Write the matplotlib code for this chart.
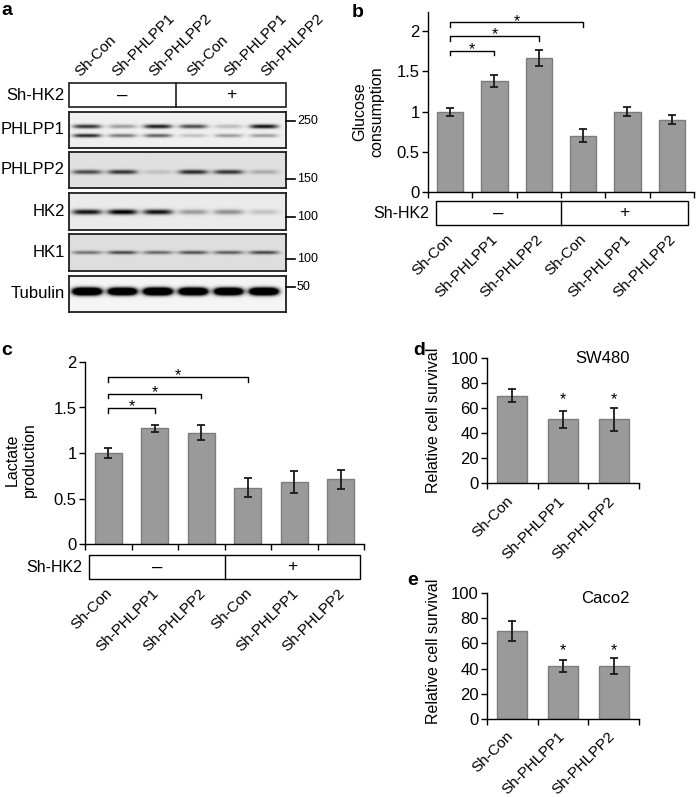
import numpy as np
import matplotlib
matplotlib.use('Agg')
import matplotlib.pyplot as plt
from matplotlib.transforms import blended_transform_factory as btf, offset_copy
from matplotlib.patches import Rectangle
from matplotlib.lines import Line2D

plt.rcParams['font.family'] = ['Liberation Sans', 'DejaVu Sans']

# ---------------- data ----------------
lanes = ['Sh-Con', 'Sh-PHLPP1', 'Sh-PHLPP2', 'Sh-Con', 'Sh-PHLPP1', 'Sh-PHLPP2']
hk2_status = ['\u2013', '+']
hk2_label = 'Sh-HK2'

glucose = [1.0, 1.38, 1.67, 0.70, 1.0, 0.90]
glucose_err = [0.05, 0.07, 0.10, 0.08, 0.06, 0.06]
glucose_ticks = [0, 0.5, 1, 1.5, 2]
glucose_ticklabels = ['0', '0.5', '1', '1.5', '2']
glucose_brackets = [(0, 1, 1.76), (0, 2, 1.94), (0, 3, 2.11)]

lactate = [1.0, 1.27, 1.225, 0.62, 0.68, 0.71]
lactate_err = [0.06, 0.04, 0.08, 0.105, 0.12, 0.105]
lactate_ticks = [0, 0.5, 1, 1.5, 2]
lactate_ticklabels = ['0', '0.5', '1', '1.5', '2']
lactate_brackets = [(0, 1, 1.49), (0, 2, 1.65), (0, 3, 1.83)]

survival_groups = ['Sh-Con', 'Sh-PHLPP1', 'Sh-PHLPP2']
sw480 = [70, 51, 51]
sw480_err = [5.5, 7, 9]
sw480_stars = [1, 2]
caco2 = [70, 42, 42]
caco2_err = [8, 5, 6.5]
caco2_stars = [1, 2]
survival_ticks = [0, 20, 40, 60, 80, 100]

blot_rows = ['PHLPP1', 'PHLPP2', 'HK2', 'HK1', 'Tubulin']
phlpp1_upper = [0.8, 0.35, 0.9, 0.7, 0.22, 0.95]
phlpp1_lower = [0.85, 0.5, 0.6, 0.2, 0.35, 0.35]
phlpp2_band = [0.7, 0.8, 0.15, 0.85, 0.8, 0.25]
hk2_band = [0.95, 1.05, 0.95, 0.35, 0.4, 0.18]
hk1_band = [0.5, 0.7, 0.55, 0.65, 0.6, 0.7]
tubulin_band = [2.5, 2.3, 2.5, 2.4, 2.3, 2.4]
mw_labels = ['250', '150', '100', '100', '50']

# ---------------- layout helpers ----------------
W, H = 697, 797
fig = plt.figure(figsize=(W / 100, H / 100), dpi=100)


def fx(p):
    return p / W


def fy(p):
    return 1 - p / H


def ax_px(x0, y0, x1, y1):
    return fig.add_axes([fx(x0), fy(y1), (x1 - x0) / W, (y1 - y0) / H])


BAR_C = '#9a9a9a'
EDGE_C = '#7c7c7c'
FS = 11.5


def bar_panel(ax, vals, errs, ylim, yticks, yticklabels):
    n = len(vals)
    x = np.arange(n)
    ax.bar(x, vals, width=0.59, color=BAR_C, edgecolor=EDGE_C, linewidth=1.0, zorder=2)
    ax.errorbar(x, vals, yerr=errs, fmt='none', ecolor='#1a1a1a', elinewidth=1.3,
                capsize=2.8, capthick=1.3, zorder=3)
    ax.set_xlim(-0.5, n - 0.5)
    ax.set_ylim(*ylim)
    ax.set_xticks(np.arange(n + 1) - 0.5)
    ax.set_xticklabels([])
    ax.set_yticks(yticks)
    ax.set_yticklabels(yticklabels, fontsize=FS + 0.5)
    ax.tick_params(axis='x', length=4, width=1, direction='out', color='k')
    ax.tick_params(axis='y', length=4, width=1, direction='out', pad=2, color='k')
    for s in ['top', 'right']:
        ax.spines[s].set_visible(False)
    for s in ['left', 'bottom']:
        ax.spines[s].set_linewidth(1.0)
    ax.patch.set_alpha(0)


def rot_labels(ax, labels, y_px, off):
    tr = btf(ax.transData, fig.transFigure)
    for i, lab in enumerate(labels):
        ax.text(i + off, fy(y_px), lab, transform=tr, rotation=45, ha='right', va='top',
                fontsize=FS - 0.5, clip_on=False)


def brackets(ax, specs, drop, star_off):
    tr = offset_copy(ax.transData, fig=fig, y=star_off, units='dots')
    for a, b, y in specs:
        ax.plot([a, a, b, b], [y - drop, y, y, y - drop], color='k', lw=1.0, clip_on=False)
        ax.text((a + b) / 2, y, '*', transform=tr, ha='center', va='baseline', fontsize=FS,
                clip_on=False)


def hk2_box(ax, xl, xr, y0, y1, label_right_px):
    tr = btf(ax.transData, fig.transFigure)
    n = len(lanes)
    mid = n / 2 - 0.5
    ax.add_patch(Rectangle((xl, fy(y1)), xr - xl, (y1 - y0) / H, transform=tr, fill=False,
                           lw=1.0, ec='k', clip_on=False))
    ax.add_line(Line2D([mid, mid], [fy(y1), fy(y0)], transform=tr, color='k', lw=1.0,
                       clip_on=False))
    yc = fy((y0 + y1) / 2)
    ax.text((xl + mid) / 2, yc, hk2_status[0], transform=tr, ha='center', va='center', fontsize=FS + 2)
    ax.text((mid + xr) / 2, yc, hk2_status[1], transform=tr, ha='center', va='center', fontsize=FS + 1)
    fig.text(fx(label_right_px), yc, hk2_label, ha='right', va='center', fontsize=FS)


# ---------------- panel a : western blot ----------------
BX0, BX1 = -0.51, 5.62
blot_specs = [
    # label, box y0, y1, background, bands (intensities, yc, sy, wx), mw y
    ('PHLPP1', 112, 148, 0.94, [(phlpp1_upper, 127, 2.0, 0.40), (phlpp1_lower, 136, 1.8, 0.40)], 121),
    ('PHLPP2', 152, 188, 0.88, [(phlpp2_band, 172, 2.2, 0.42)], 179),
    ('HK2', 193, 230, 0.92, [(hk2_band, 212, 2.6, 0.42)], 217),
    ('HK1', 234, 271, 0.87, [(hk1_band, 252.5, 1.8, 0.42)], 259),
    ('Tubulin', 276, 312, 0.96, [(tubulin_band, 292, 3.4, 0.40)], 287),
]

for k, (lab, y0, y1, bg, bands, mwy) in enumerate(blot_specs):
    ax = ax_px(69, y0, 286, y1)
    xs = np.linspace(BX0, BX1, 700)
    ys = np.linspace(y0, y1, 150)
    X, Y = np.meshgrid(xs, ys)
    dark = np.zeros_like(X)
    for inten, yc, sy, wx in bands:
        for i, v in enumerate(inten):
            dark += v * np.exp(-(np.abs(X - i) / wx) ** 4) * np.exp(-((Y - yc) / sy) ** 2)
    img = bg * (1 - np.clip(dark, 0, 1))
    ax.imshow(img, cmap='gray', vmin=0, vmax=1, extent=(BX0, BX1, y1, y0), aspect='auto',
              interpolation='bilinear')
    ax.set_xlim(BX0, BX1)
    ax.set_ylim(y1, y0)
    ax.set_xticks([])
    ax.set_yticks([])
    for s in ax.spines.values():
        s.set_linewidth(1.3)
        s.set_color('#1e1e1e')
    fig.text(fx(65), fy((y0 + y1) / 2), lab, ha='right', va='center', fontsize=FS + 0.5)
    fig.add_artist(Line2D([fx(286), fx(295)], [fy(mwy), fy(mwy)], color='k', lw=1.2))
    fig.text(fx(297), fy(mwy), mw_labels[k], ha='left', va='center', fontsize=9)

# Sh-HK2 header box for blot
axh = ax_px(69, 83, 286, 107)
axh.set_xlim(BX0, BX1)
axh.set_ylim(0, 1)
axh.axis('off')
tr_h = btf(axh.transData, fig.transFigure)
axh.add_patch(Rectangle((BX0, fy(107)), BX1 - BX0, 24 / H, transform=tr_h, fill=False, lw=1.2,
                        ec='#1e1e1e', clip_on=False))
axh.add_line(Line2D([2.5, 2.5], [fy(107), fy(83)], transform=tr_h, color='#1e1e1e', lw=1.2,
                    clip_on=False))
axh.text((BX0 + 2.5) / 2, fy(95), hk2_status[0], transform=tr_h, ha='center', va='center',
         fontsize=FS + 2)
axh.text((2.5 + BX1) / 2, fy(95), hk2_status[1], transform=tr_h, ha='center', va='center',
         fontsize=FS + 1)
fig.text(fx(65), fy(95), hk2_label, ha='right', va='center', fontsize=FS + 0.5)
for i, lab in enumerate(lanes):
    axh.text(-0.42 + i * 1.054, fy(79), lab, transform=tr_h, rotation=45, ha='left',
             va='bottom', fontsize=FS - 0.5, clip_on=False)

# ---------------- panel b : glucose ----------------
axb = ax_px(428, 12, 694, 192)
bar_panel(axb, glucose, glucose_err, (0, 2.24), glucose_ticks, glucose_ticklabels)
brackets(axb, glucose_brackets, 0.055, -3.5)
hk2_box(axb, -0.32, 5.36, 201, 225, 429)
rot_labels(axb, lanes, 232, 0.14)
fig.text(fx(368), fy(112), 'Glucose\nconsumption', rotation=90, ha='center', va='center',
         multialignment='center', fontsize=FS, linespacing=1.15)

# ---------------- panel c : lactate ----------------
axc = ax_px(85, 362, 364, 544)
bar_panel(axc, lactate, lactate_err, (0, 2), lactate_ticks, lactate_ticklabels)
brackets(axc, lactate_brackets, 0.045, -3.0)
hk2_box(axc, -0.41, 5.41, 555, 579, 82)
rot_labels(axc, lanes, 586, 0.15)
fig.text(fx(21), fy(460), 'Lactate\nproduction', rotation=90, ha='center', va='center',
         multialignment='center', fontsize=FS, linespacing=1.15)

# ---------------- panel d : SW480 ----------------
axd = ax_px(487, 358, 639, 483)
bar_panel(axd, sw480, sw480_err, (0, 100), survival_ticks, [str(t) for t in survival_ticks])
trd = offset_copy(axd.transData, fig=fig, y=-9, units='dots')
for i in sw480_stars:
    axd.text(i, 70, '*', transform=trd, ha='center', va='baseline', fontsize=FS)
rot_labels(axd, survival_groups, 494, 0.08)
axd.text(0.76, 1.0, 'SW480', transform=axd.transAxes, ha='center', va='center', fontsize=FS + 0.5)
fig.text(fx(434), fy(420), 'Relative cell survival', rotation=90, ha='center', va='center',
         fontsize=FS)

# ---------------- panel e : Caco2 ----------------
axe = ax_px(487, 593, 639, 719)
bar_panel(axe, caco2, caco2_err, (0, 100), survival_ticks, [str(t) for t in survival_ticks])
tre = offset_copy(axe.transData, fig=fig, y=-9, units='dots')
for i in caco2_stars:
    axe.text(i, 58, '*', transform=tre, ha='center', va='baseline', fontsize=FS)
rot_labels(axe, survival_groups, 729, 0.08)
axe.text(0.78, 0.96, 'Caco2', transform=axe.transAxes, ha='center', va='center', fontsize=FS + 0.5)
fig.text(fx(434), fy(651), 'Relative cell survival', rotation=90, ha='center', va='center',
         fontsize=FS)

# ---------------- panel letters ----------------
for letter, x, y in [('a', 1, 15), ('b', 352, 17), ('c', 1, 355), ('d', 413, 355), ('e', 407, 585)]:
    fig.text(fx(x), fy(y), letter, ha='left', va='baseline', fontsize=14, fontweight='bold')

fig.savefig('out.png', dpi=100)
